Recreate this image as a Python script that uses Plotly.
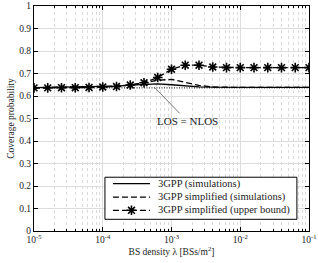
import plotly.graph_objects as go

# exponents of BS density (lambda = 10**exp)
log_density = [-5.0, -4.8, -4.6, -4.4, -4.2, -4.0, -3.8, -3.6, -3.4, -3.2, -3.0,
               -2.8, -2.6, -2.4, -2.2, -2.0, -1.8, -1.6, -1.4, -1.2, -1.0]
density = [10 ** e for e in log_density]

cov_3gpp_sim = [0.637, 0.638, 0.639, 0.640, 0.641, 0.642, 0.644, 0.648, 0.652, 0.654, 0.650,
                0.645, 0.641, 0.639, 0.638, 0.638, 0.638, 0.638, 0.638, 0.638, 0.638]
cov_simpl_sim = [0.637, 0.638, 0.639, 0.640, 0.641, 0.642, 0.644, 0.648, 0.658, 0.670, 0.674,
                 0.661, 0.647, 0.640, 0.638, 0.638, 0.638, 0.638, 0.638, 0.638, 0.638]
cov_simpl_ub = [0.636, 0.636, 0.637, 0.637, 0.638, 0.640, 0.642, 0.649, 0.659, 0.682, 0.719,
                0.737, 0.737, 0.729, 0.726, 0.726, 0.726, 0.726, 0.726, 0.726, 0.726]
cov_los_eq_nlos = [0.636] * len(log_density)

names = ["3GPP (simulations)", "3GPP simplified (simulations)", "3GPP simplified (upper bound)"]
x_tick_exps = [-5, -4, -3, -2, -1]
y_ticks = [0, 0.1, 0.2, 0.3, 0.4, 0.5, 0.6, 0.7, 0.8, 0.9, 1]
y_tick_text = ["0", "0.1", "0.2", "0.3", "0.4", "0.5", "0.6", "0.7", "0.8", "0.9", "1"]

FONT = "Liberation Serif"
TXT = "#222"

solid = dict(color="black", width=1.3)
dashed = dict(color="black", width=1.3, dash="6px,3px")
star = dict(symbol="asterisk-open", size=8, color="black",
            line=dict(color="black", width=1.6))

fig = go.Figure()
fig.add_trace(go.Scatter(x=density, y=cov_los_eq_nlos, mode="lines", showlegend=False,
                         line=dict(color="black", width=1, dash="1px,1.5px")))
fig.add_trace(go.Scatter(x=density, y=cov_3gpp_sim, mode="lines", name=names[0],
                         showlegend=False, line=solid))
fig.add_trace(go.Scatter(x=density, y=cov_simpl_sim, mode="lines", name=names[1],
                         showlegend=False, line=dashed))
fig.add_trace(go.Scatter(x=density, y=cov_simpl_ub, mode="lines+markers", name=names[2],
                         showlegend=False, line=dashed, marker=star))

# ---- custom legend (drawn on an overlay axis spanning the plot area, 0..1) ----
leg_x0, leg_x1, leg_y0, leg_y1 = 0.258, 0.956, 0.052, 0.239
leg_rows = [0.211, 0.151, 0.092]
leg_sample_x = [0.287, 0.422]
leg_text_x = 0.445
leg_styles = [dict(line=solid), dict(line=dashed), dict(line=dashed, marker=star)]

fig.add_trace(go.Scatter(x=[leg_x0, leg_x1, leg_x1, leg_x0, leg_x0],
                         y=[leg_y0, leg_y0, leg_y1, leg_y1, leg_y0],
                         mode="lines", fill="toself", fillcolor="white",
                         line=dict(color="black", width=1), xaxis="x2", yaxis="y2",
                         showlegend=False, hoverinfo="skip"))
for nm, row, st in zip(names, leg_rows, leg_styles):
    fig.add_trace(go.Scatter(x=leg_sample_x, y=[row, row], mode="lines",
                             line=st["line"], xaxis="x2", yaxis="y2",
                             showlegend=False, hoverinfo="skip"))
    if "marker" in st:
        fig.add_trace(go.Scatter(x=[sum(leg_sample_x) / 2], y=[row], mode="markers",
                                 marker=st["marker"], xaxis="x2", yaxis="y2",
                                 showlegend=False, hoverinfo="skip"))
    fig.add_annotation(x=leg_text_x, y=row, xref="x2", yref="y2", text=nm,
                       showarrow=False, xanchor="left", yanchor="middle",
                       font=dict(family=FONT, size=10.5, color=TXT))

minor_vals = [m * 10 ** d for d in range(-5, -1) for m in range(2, 10)]

fig.update_layout(
    xaxis=dict(
        type="log", range=[-5, -1],
        tickvals=[10 ** e for e in x_tick_exps],
        ticktext=[f"10<sup>{e}</sup>" for e in x_tick_exps],
        ticks="inside", ticklen=4, tickcolor="black",
        showgrid=True, gridcolor="#dcdcdc", gridwidth=1,
        minor=dict(tickmode="array", tickvals=minor_vals, ticks="inside", ticklen=2,
                   tickcolor="black", showgrid=True, gridcolor="#dadada", griddash="dot"),
        showline=True, linecolor="black", linewidth=1, mirror="allticks",
        zeroline=False,
        title=dict(text="BS density λ [BSs/m<sup>2</sup>]", standoff=3,
                   font=dict(family=FONT, size=9.5, color=TXT)),
        tickfont=dict(family=FONT, size=9.5, color=TXT),
    ),
    yaxis=dict(
        range=[0, 1], tickvals=y_ticks, ticktext=y_tick_text,
        ticks="inside", ticklen=4, tickcolor="black",
        showgrid=True, gridcolor="#dcdcdc", gridwidth=1,
        showline=True, linecolor="black", linewidth=1, mirror="allticks",
        zeroline=False,
        title=dict(text="Coverage probability", standoff=2,
                   font=dict(family=FONT, size=9.5, color=TXT)),
        tickfont=dict(family=FONT, size=9.5, color=TXT),
    ),
    xaxis2=dict(range=[0, 1], overlaying="x", visible=False, fixedrange=True),
    yaxis2=dict(range=[0, 1], overlaying="y", visible=False, fixedrange=True),
)

fig.add_annotation(x=-3.24, y=0.636, xref="x", yref="y", text="LOS = NLOS",
                   showarrow=True, arrowhead=0, arrowwidth=0.8, arrowcolor="#555",
                   ax=32, ay=33, font=dict(family=FONT, size=11, color=TXT))

fig.update_layout(
    width=318, height=263,
    margin=dict(l=34, r=9, t=6, b=32, autoexpand=False),
    paper_bgcolor="white", plot_bgcolor="white",
    font=dict(family=FONT, size=9.5, color=TXT),
    showlegend=False,
)

fig.write_html("out.html", config={"displayModeBar": False},
               post_script="document.body.style.margin='0';")
